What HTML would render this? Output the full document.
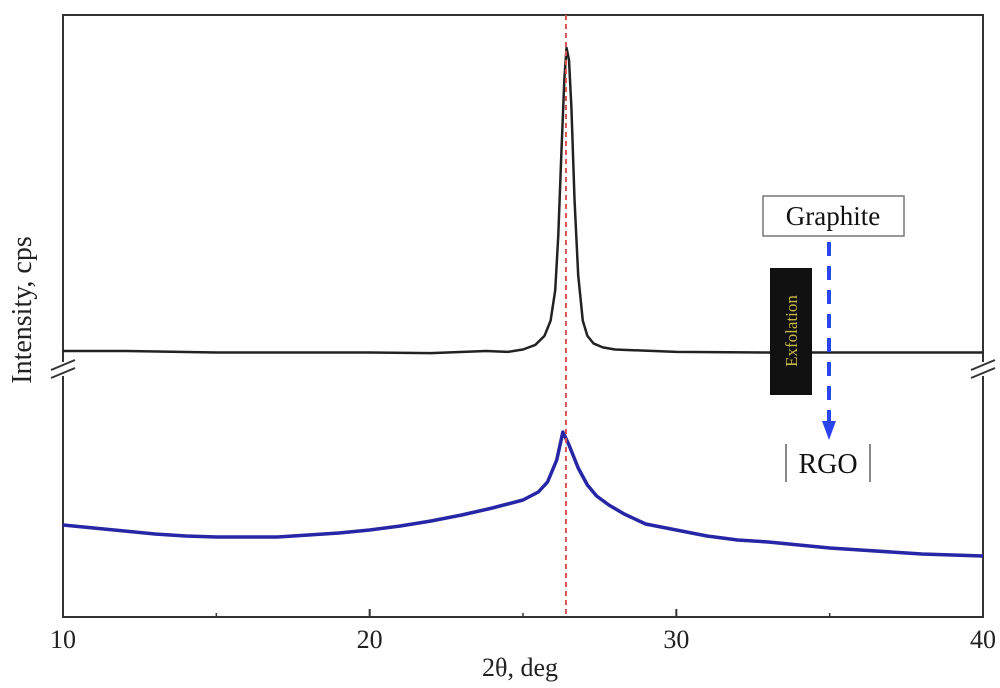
<!DOCTYPE html>
<html><head><meta charset="utf-8"><style>
body{margin:0;background:#fff}
svg{display:block;font-family:"Liberation Serif",serif}
</style></head><body>
<svg id="c" width="1000" height="688" viewBox="0 0 1000 688">
<rect x="0" y="0" width="1000" height="688" fill="#fff"/>
<g id="plot"></g>
</svg>
<script>
const xTicks=[10,20,30,40];
const graphiteX=[10,12,15,18,20,22,23.8,24.5,25,25.4,25.7,25.9,26.05,26.15,26.25,26.35,26.42,26.5,26.58,26.68,26.8,26.95,27.1,27.3,27.6,28,30,33,36,40];
const graphiteY=[0,0,-0.5,-0.5,-0.5,-0.7,0,-0.3,0.5,2,5,10,20,38,65,90,100,96,80,50,25,10,5,2.5,1.2,0.5,-0.3,-0.5,-0.5,-0.5];
const rgoX=[10,11,12,13,14,15,16,17,18,19,20,21,22,23,24,24.5,25,25.5,25.8,26.1,26.3,26.5,26.8,27.1,27.4,27.8,28.3,29,29.5,30,31,32,33,34,35,36,37,38,39,40];
const rgoY=[75,72,69,66,64,63,63,63,65,67,70,74,79,85,92,96,100,108,118,140,168,155,132,115,104,95,86,76,73,70,64,60,58,55,52,50,48,46,45,44];
const peakLine=26.4;
const L=63,R=983,T=15,B=617;
const sx=v=>L+(v-10)*(R-L)/30;
const syG=v=>351-v*3.03;
const syR=v=>600-v;
const ns="http://www.w3.org/2000/svg";
const g=document.getElementById('plot');
function mk(t,a,p){const e=document.createElementNS(ns,t);for(const k in a)e.setAttribute(k,a[k]);(p||g).appendChild(e);return e;}
let e;
e=mk('rect',{x:L,y:T,width:R-L,height:B-T,fill:'none',stroke:'#333','stroke-width':2});


[L,R].forEach((x,i)=>{
 e=mk('rect',{x:x-6,y:362,width:12,height:14,fill:'#fff'});
 
 
 e=mk('path',{d:`M${x-12} ${370}L${x+12} ${360}M${x-12} ${378}L${x+12} ${368}`,stroke:'#333','stroke-width':2,fill:'none'});
 
 
});
xTicks.forEach(t=>{
 e=mk('line',{x1:sx(t),x2:sx(t),y1:B,y2:B-8,stroke:'#333','stroke-width':2});
 
 
 e=mk('text',{x:sx(t),y:648,'text-anchor':'middle','font-size':26,fill:'#222'});
 e.textContent=t;
 
 
});
[15,25,35].forEach(t=>{
 e=mk('line',{x1:sx(t),x2:sx(t),y1:B,y2:B-4,stroke:'#333','stroke-width':1.5});
 
 
});
e=mk('text',{x:520,y:676,'text-anchor':'middle','font-size':26,fill:'#222'});
e.textContent='2θ, deg';


e=mk('text',{x:0,y:0,'text-anchor':'middle','font-size':28,fill:'#222',transform:'translate(31,310) rotate(-90)'});
e.textContent='Intensity, cps';


e=mk('polyline',{points:rgoX.map((x,i)=>sx(x)+','+syR(rgoY[i])).join(' '),fill:'none',stroke:'#2626a6','stroke-width':3.5,'stroke-linejoin':'round'});


e=mk('polyline',{points:graphiteX.map((x,i)=>sx(x)+','+syG(graphiteY[i])).join(' '),fill:'none',stroke:'#222','stroke-width':2.5,'stroke-linejoin':'round'});


e=mk('line',{x1:sx(peakLine),x2:sx(peakLine),y1:T,y2:B,stroke:'#d9534f','stroke-width':2,'stroke-dasharray':'5,4'});


e=mk('line',{x1:829,x2:829,y1:242,y2:425,stroke:'#2a44ee','stroke-width':4,'stroke-dasharray':'14,10'});


e=mk('path',{d:'M822 421L836 421L829 440Z',fill:'#2a44ee'});


e=mk('rect',{x:763,y:196,width:141,height:40,fill:'#fff',stroke:'#777','stroke-width':1.5});


e=mk('text',{x:833,y:225,'text-anchor':'middle','font-size':27,fill:'#111'});
e.textContent='Graphite';


e=mk('rect',{x:770,y:268,width:42,height:127,fill:'#111'});


e=mk('text',{x:0,y:0,'text-anchor':'middle','font-size':17,fill:'#c8b84a',transform:'translate(797,331) rotate(-90)'});
e.textContent='Exfolation';


e=mk('path',{d:'M786 444V482M870 444V482',stroke:'#888','stroke-width':2});


e=mk('text',{x:828,y:473,'text-anchor':'middle','font-size':28,fill:'#111'});
e.textContent='RGO';


</script>
</body></html>
